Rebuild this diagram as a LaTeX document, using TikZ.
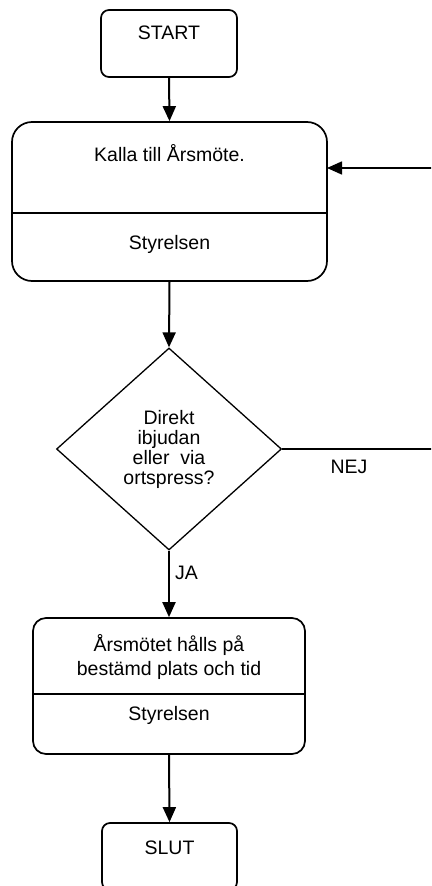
\documentclass[tikz,border=0pt]{standalone}
\usepackage{fontspec}
\setmainfont{Liberation Sans}
\usetikzlibrary{arrows.meta,shapes.geometric}
\begin{document}
\begin{tikzpicture}[x=1pt,y=-1pt,
  box/.style={draw,line width=1.7pt,minimum width=#1,inner sep=0pt},
  txt/.style={font=\fontsize{19.5}{21}\selectfont,inner sep=0pt,align=center},
  flow/.style={line width=2pt,-{Triangle[width=13pt,length=15pt]}},
  plain/.style={line width=1.6pt}]
\useasboundingbox (0,0) rectangle (431,886);
\clip (0,0) rectangle (431,886);
% START
\node[box=136pt,minimum height=67pt,rounded corners=8pt] (start) at (169,43.5) {};
\node[txt] (starttxt) at (169,33) {START};
% Big box
\node[box=315pt,minimum height=159pt,rounded corners=20pt] (call) at (169.5,201.5) {};
\coordinate (calldivl) at (12,213);
\coordinate (calldivr) at (327,213);
\draw[line width=1.3pt] (calldivl) -- (calldivr);
\node[txt] (calltxt) at (169.5,153) {Kalla till Årsmöte.};
\node[txt] (callwho) at (169.5,244) {Styrelsen};
% Diamond
\node[draw,line width=1.3pt,diamond,minimum width=225pt,minimum height=202pt,inner sep=0pt,
  txt,font=\fontsize{19.5}{20}\selectfont] (dec) at (169,449) {Direkt\\ibjudan\\eller~ via\\ortspress?};
% Lower box
\node[box=272pt,minimum height=136pt,rounded corners=13pt] (meet) at (169,686) {};
\coordinate (meetdivl) at (33,694);
\coordinate (meetdivr) at (305,694);
\draw[line width=1.3pt] (meetdivl) -- (meetdivr);
\node[txt,font=\fontsize{19.5}{24}\selectfont] (meettxt) at (169,657) {Årsmötet hålls på\\bestämd plats och tid};
\node[txt] (meetwho) at (169,715) {Styrelsen};
% SLUT
\node[box=135pt,minimum height=67pt,rounded corners=8pt] (slut) at (169.5,856.5) {};
\node[txt] (sluttxt) at (169.5,848) {SLUT};
% connectors
\draw[flow] (start.south) -- (call.north);
\draw[flow] (call.south) -- (dec.north);
\draw[flow] (dec.south) -- (meet.north);
\draw[flow] (meet.south) -- (slut.north);
\node[txt,anchor=west] (ja) at (175,573) {JA};
% loop
\coordinate (loopa) at (445,449);
\coordinate (loopb) at (445,168);
\coordinate (loopin) at (327,168);
\draw[plain] (dec.east) -- (loopa) -- (loopb);
\draw[flow,line width=1.6pt] (loopb) -- (loopin);
\node[txt] (nej) at (349,467) {NEJ};
\end{tikzpicture}
\end{document}
